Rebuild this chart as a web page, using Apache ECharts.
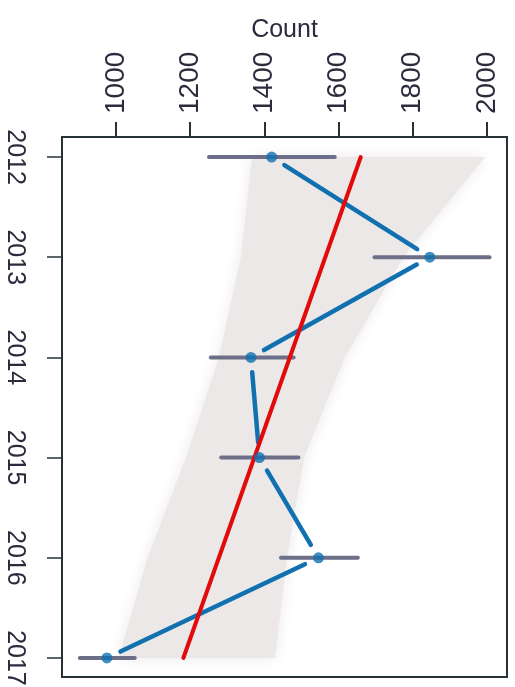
<!DOCTYPE html>
<html>
<head>
<meta charset="utf-8">
<script src="https://cdn.jsdelivr.net/npm/echarts@6/dist/echarts.min.js"></script>
<style>
  html, body { margin: 0; padding: 0; background: #fff; }
  #chart { width: 515px; height: 687px; }
</style>
</head>
<body>
<div id="chart"></div>
<script>
// values
var years = [2012, 2013, 2014, 2015, 2016, 2017];
var counts = [1420, 1846, 1364, 1387, 1546, 976];
var lower = [1251, 1697, 1256, 1284, 1445, 903];
var upper = [1590, 2007, 1479, 1492, 1652, 1051];

// fitted line ends
var regYears = [2012, 2017];
var regCounts = [1660, 1182];

// shaded band round the fit
var bandYears = [2012, 2013, 2014, 2015, 2016, 2017];
var bandLow = [1367, 1337, 1278, 1189, 1086, 1008];
var bandHigh = [1995, 1774, 1617, 1507, 1461, 1429];

var countTicks = [1000, 1200, 1400, 1600, 1800, 2000];
var yearTicks = [2012, 2013, 2014, 2015, 2016, 2017];

var frameColor = "#263236";
var textColor = "#2b2b3d";
var blue = "#1070b0";
var barColor = "#6d6e88";
var red = "#e20a0a";

function plain(v) {
  return String(v);
}

var chart = echarts.init(document.getElementById("chart"));

var option = {
  animation: false,
  backgroundColor: "#fff",
  grid: {
    left: 62,
    top: 137,
    right: 8,
    bottom: 10,
    outerBoundsMode: "none",
    show: true,
    borderColor: frameColor,
    borderWidth: 2,
  },
  xAxis: {
    type: "value",
    position: "top",
    min: 855,
    max: 2054,
    name: "Count",
    nameLocation: "middle",
    nameGap: 94,
    nameTextStyle: {
      fontFamily: "Liberation Sans",
      fontSize: 25,
      color: textColor,
    },
    axisLine: { show: true, lineStyle: { color: frameColor, width: 2 } },
    axisTick: {
      show: true,
      length: 15,
      customValues: countTicks,
      lineStyle: { color: frameColor, width: 2 },
    },
    axisLabel: {
      rotate: -90,
      margin: 23,
      customValues: countTicks,
      formatter: plain,
      fontFamily: "Liberation Sans",
      fontSize: 28,
      color: textColor,
    },
    splitLine: { show: false },
  },
  yAxis: {
    type: "value",
    inverse: true,
    min: 2011.8,
    max: 2017.19,
    axisLine: { show: true, lineStyle: { color: frameColor, width: 2 } },
    axisTick: {
      show: true,
      length: 15,
      customValues: yearTicks,
      lineStyle: { color: frameColor, width: 1.5 },
    },
    axisLabel: {
      rotate: -90,
      margin: 35,
      customValues: yearTicks,
      formatter: plain,
      fontFamily: "Liberation Sans",
      fontSize: 25,
      color: textColor,
    },
    splitLine: { show: false },
  },
  series: [
    {
      // confidence band
      type: "custom",
      data: [0],
      z: 1,
      renderItem: function (params, api) {
        var pts = [];
        for (var i = 0; i < bandYears.length; i++) {
          pts.push(api.coord([bandLow[i], bandYears[i]]));
        }
        for (var j = bandYears.length - 1; j >= 0; j--) {
          pts.push(api.coord([bandHigh[j], bandYears[j]]));
        }
        return {
          type: "polygon",
          shape: { points: pts },
          style: {
            fill: "#ece8e8",
            shadowColor: "#ece8e8",
            shadowBlur: 14,
          },
        };
      },
    },
    {
      // error bars
      type: "custom",
      z: 3,
      data: years.map(function (y, i) {
        return [lower[i], upper[i], y];
      }),
      encode: { x: [0, 1], y: 2 },
      renderItem: function (params, api) {
        var a = api.coord([api.value(0), api.value(2)]);
        var b = api.coord([api.value(1), api.value(2)]);
        return {
          type: "line",
          shape: { x1: a[0], y1: a[1], x2: b[0], y2: b[1] },
          style: { stroke: barColor, lineWidth: 4, lineCap: "round" },
        };
      },
    },
    {
      // connecting segments, with gaps round the points
      type: "custom",
      z: 4,
      data: years.map(function (y, i) {
        return [counts[i], y];
      }),
      encode: { x: 0, y: 1 },
      renderItem: function (params, api) {
        var i = params.dataIndex;
        if (i >= years.length - 1) return;
        var a = api.coord([counts[i], years[i]]);
        var b = api.coord([counts[i + 1], years[i + 1]]);
        var dx = b[0] - a[0];
        var dy = b[1] - a[1];
        var len = Math.sqrt(dx * dx + dy * dy);
        var gap = 15;
        return {
          type: "line",
          shape: {
            x1: a[0] + (dx * gap) / len,
            y1: a[1] + (dy * gap) / len,
            x2: b[0] - (dx * gap) / len,
            y2: b[1] - (dy * gap) / len,
          },
          style: { stroke: blue, lineWidth: 4.5, lineCap: "round" },
        };
      },
    },
    {
      // fitted line
      type: "line",
      z: 5,
      symbol: "none",
      data: regYears.map(function (y, i) {
        return [regCounts[i], y];
      }),
      lineStyle: { color: red, width: 4, cap: "round" },
    },
    {
      type: "scatter",
      z: 6,
      symbolSize: 11,
      data: years.map(function (y, i) {
        return [counts[i], y];
      }),
      itemStyle: { color: blue },
    },
  ],
};

option && chart.setOption(option);
</script>
</body>
</html>
